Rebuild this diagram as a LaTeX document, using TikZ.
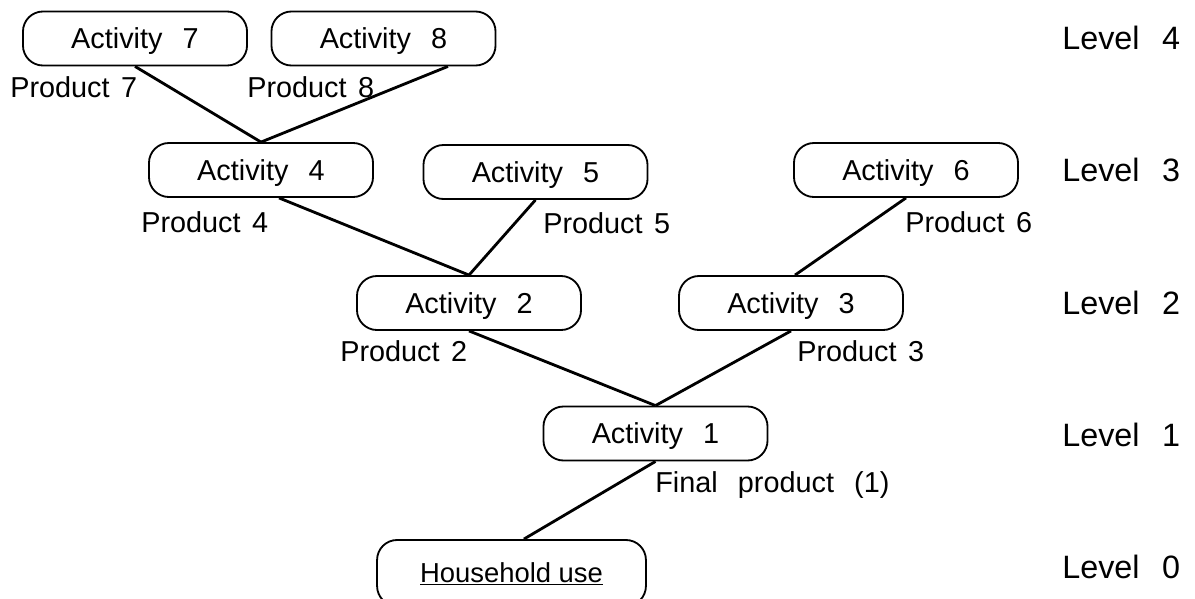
\documentclass[tikz,border=0pt]{standalone}
\usepackage{fontspec}
\setmainfont{Liberation Sans}
\newcommand{\gap}{\hspace{0.7em}}
\tikzset{
  activity/.style={draw,line width=1.3pt,rounded corners=0.5cm,minimum width=5.6cm,minimum height=1.35cm,inner sep=0pt,text height=14.7pt,text depth=0pt,font=\fontsize{20.5}{24}\selectfont},
  prod/.style={anchor=west,inner sep=0pt,font=\fontsize{20.5}{24}\selectfont},
  level/.style={anchor=west,inner sep=0pt,text height=16.5pt,text depth=0pt,font=\fontsize{23}{26}\selectfont},
  link/.style={line width=2pt}
}
\begin{document}
\begin{tikzpicture}[x=0.025cm,y=-0.025cm]
 \useasboundingbox (0,0) rectangle (1195,598);
 % activities, level by level
 \node[activity] (a7) at (135,38.5) {Activity\gap 7};
 \node[activity] (a8) at (383.5,38.5) {Activity\gap 8};
 \node[activity] (a4) at (261,170) {Activity\gap 4};
 \node[activity] (a5) at (535.5,172) {Activity\gap 5};
 \node[activity] (a6) at (906,170) {Activity\gap 6};
 \node[activity] (a2) at (469,303) {Activity\gap 2};
 \node[activity] (a3) at (791,303) {Activity\gap 3};
 \node[activity] (a1) at (655.5,433.5) {Activity\gap 1};
 \node[activity,minimum width=6.72cm,minimum height=1.65cm,text height=13.5pt,font=\fontsize{19.5}{24}\selectfont] (hh) at (511.5,573) {\underline{Household use}};
 % products
 \node[prod] (p7) at (10,87) {Product\hspace{0.4em}7};
 \node[prod] (p8) at (247,87) {Product\hspace{0.4em}8};
 \node[prod] (p4) at (141,222) {Product\hspace{0.4em}4};
 \node[prod] (p5) at (543,223) {Product\hspace{0.4em}5};
 \node[prod] (p6) at (905,222) {Product\hspace{0.4em}6};
 \node[prod] (p2) at (340,351) {Product\hspace{0.4em}2};
 \node[prod] (p3) at (797,351) {Product\hspace{0.4em}3};
 \node[prod] (p1) at (655,485) {Final\gap product\gap (1)};
 % levels
 \node[level] (l4) at (1062,38) {Level\gap 4};
 \node[level] (l3) at (1062,170) {Level\gap 3};
 \node[level] (l2) at (1062,303) {Level\gap 2};
 \node[level] (l1) at (1062,435) {Level\gap 1};
 \node[level] (l0) at (1062,567) {Level\gap 0};
 % links
 \draw[link] (a7.south) -- (a4.north);
 \draw[link] ([xshift=1.61cm]a8.south) -- (a4.north);
 \draw[link] ([xshift=0.45cm]a4.south) -- (a2.north);
 \draw[link] (a5.south) -- (a2.north);
 \draw[link] (a6.south) -- ([xshift=0.1cm]a3.north);
 \draw[link] (a2.south) -- (a1.north);
 \draw[link] (a3.south) -- (a1.north);
 \draw[link] (a1.south) -- ([xshift=0.31cm]hh.north);
\end{tikzpicture}
\end{document}
